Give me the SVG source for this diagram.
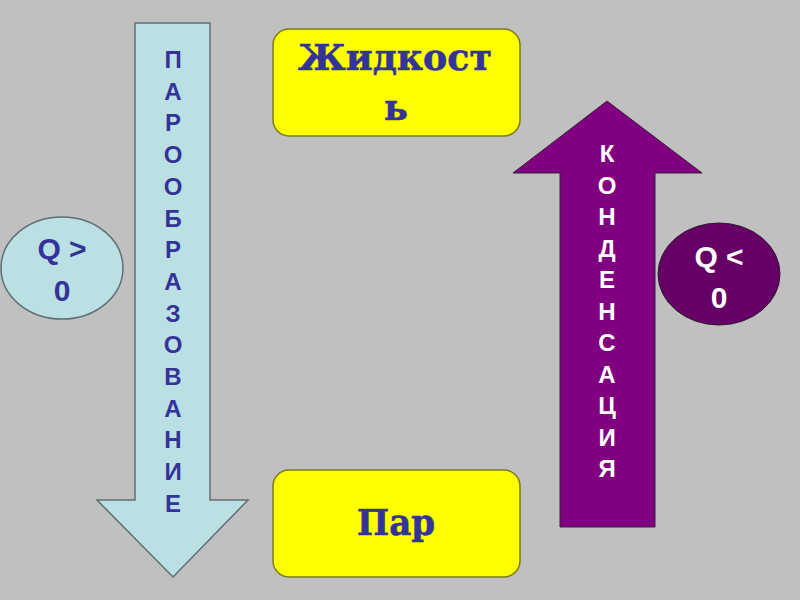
<svg xmlns="http://www.w3.org/2000/svg" width="800" height="600" viewBox="0 0 800 600">
<style>
.bg{fill:#C0C0C0}
.lb{fill:#BBE0E3;stroke:#5F6F70;stroke-width:1.5}
.yb{fill:#FFFF00;stroke:#7A7A1A;stroke-width:1.5}
.pu{fill:#800080;stroke:#3A1F3A;stroke-width:1}
.pe{fill:#660066;stroke:#2A1A2A;stroke-width:1}
.lt{font-family:"Liberation Sans",Arial,sans-serif;font-weight:bold;font-size:24px;text-anchor:middle}
.blue{fill:#333399}
.white{fill:#FFFFFF}
.ser{font-family:"DejaVu Serif","Liberation Serif",serif;font-weight:bold;font-size:35px;text-anchor:middle;fill:#333399;stroke:#333399;stroke-width:0.6}
.q{font-family:"Liberation Sans",Arial,sans-serif;font-weight:bold;font-size:30px;text-anchor:middle}
</style>
<rect class="bg" x="0" y="0" width="800" height="600"/>
<g id="connectors"/>
<g id="arrow-down">
<polygon class="lb" points="135,23 210,23 210,500 248,500 173,577 97,500 135,500"/>
<text class="lt blue" x="173">
<tspan x="173" y="68">П</tspan><tspan x="173" y="99.7">А</tspan><tspan x="173" y="131.4">Р</tspan><tspan x="173" y="163.1">О</tspan><tspan x="173" y="194.8">О</tspan><tspan x="173" y="226.5">Б</tspan><tspan x="173" y="258.2">Р</tspan><tspan x="173" y="289.9">А</tspan><tspan x="173" y="321.6">З</tspan><tspan x="173" y="353.3">О</tspan><tspan x="173" y="385">В</tspan><tspan x="173" y="416.7">А</tspan><tspan x="173" y="448.4">Н</tspan><tspan x="173" y="480.1">И</tspan><tspan x="173" y="511.8">Е</tspan>
</text>
</g>
<g id="arrow-up">
<polygon class="pu" points="607,101 702,173 655,173 655,527 560,527 560,173 513,173"/>
<text class="lt white">
<tspan x="607" y="162">К</tspan><tspan x="607" y="193.5">О</tspan><tspan x="607" y="225">Н</tspan><tspan x="607" y="256.5">Д</tspan><tspan x="607" y="288">Е</tspan><tspan x="607" y="319.5">Н</tspan><tspan x="607" y="351">С</tspan><tspan x="607" y="382.5">А</tspan><tspan x="607" y="414">Ц</tspan><tspan x="607" y="445.5">И</tspan><tspan x="607" y="477">Я</tspan>
</text>
</g>
<g id="liquid">
<rect class="yb" x="273" y="29" width="247" height="107" rx="16"/>
<text class="ser" x="395" y="70" textLength="194" lengthAdjust="spacingAndGlyphs">Жидкост</text>
<text class="ser" x="396" y="120">ь</text>
</g>
<g id="vapor">
<rect class="yb" x="273" y="470" width="247" height="107" rx="16"/>
<text class="ser" x="396" y="535" textLength="78" lengthAdjust="spacingAndGlyphs">Пар</text>
</g>
<g id="q-pos">
<ellipse class="lb" cx="62" cy="268" rx="61" ry="51"/>
<text class="q blue" x="62" y="259">Q &gt;</text>
<text class="q blue" x="62" y="301">0</text>
</g>
<g id="q-neg">
<ellipse class="pe" cx="719" cy="274" rx="61" ry="51"/>
<text class="q white" x="719" y="267">Q &lt;</text>
<text class="q white" x="719" y="308">0</text>
</g>
</svg>
